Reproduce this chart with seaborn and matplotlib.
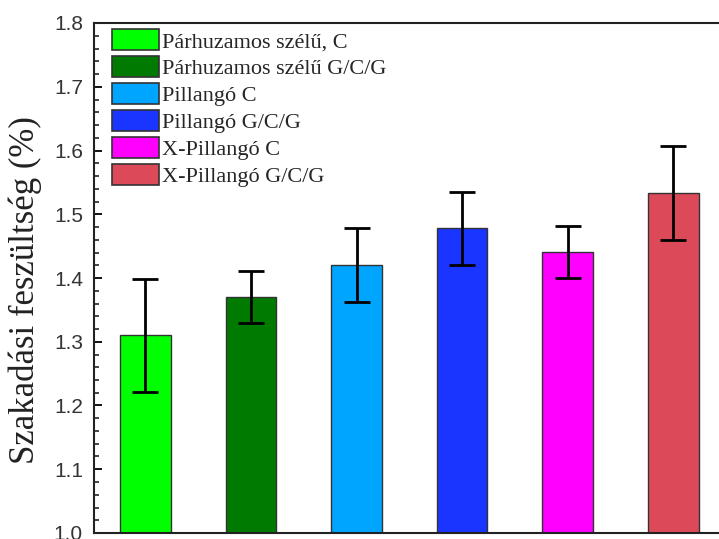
import numpy as np
import pandas as pd
import matplotlib
matplotlib.use("Agg")
import matplotlib.pyplot as plt
from matplotlib.patches import Patch
from matplotlib.ticker import MultipleLocator
import seaborn as sns

# data
labels = ["Párhuzamos szélű, C", "Párhuzamos szélű G/C/G", "Pillangó C",
          "Pillangó G/C/G", "X-Pillangó C", "X-Pillangó G/C/G"]
values = [1.310, 1.370, 1.421, 1.478, 1.441, 1.533]
errors = [0.089, 0.041, 0.058, 0.057, 0.041, 0.074]
colors = ["#00FF00", "#007A00", "#00A5FF", "#1A35FF", "#FF00FF", "#DC4A5A"]

df = pd.DataFrame({"minta": labels, "ertek": values, "hiba": errors})

sns.set_style("ticks")
plt.rcParams["font.family"] = ["Liberation Sans", "DejaVu Sans"]

fig = plt.figure(figsize=(7.19, 5.39), dpi=100)
ax = fig.add_axes([94/719, 6/539, 1.02 - 94/719, (533-23)/539])

sns.barplot(data=df, x="minta", y="ertek", hue="minta", palette=colors,
            saturation=1, width=0.483, edgecolor="#333333", linewidth=1.0,
            legend=False, errorbar=None, ax=ax)
ax.errorbar(np.arange(len(values)), df["ertek"], yerr=df["hiba"], fmt="none",
            ecolor="black", elinewidth=2.0, capsize=9.5, capthick=2.0)

ax.set_ylim(1.0, 1.8)
ax.set_xlim(-0.488, 5.572)
ax.yaxis.set_major_locator(MultipleLocator(0.1))
ax.yaxis.set_minor_locator(MultipleLocator(0.02))
ax.tick_params(axis="y", which="major", direction="in", length=6, width=1.3,
               labelsize=15, pad=8, colors="black")
ax.tick_params(axis="y", which="minor", direction="in", length=3.5, width=1.2)
ax.tick_params(axis="x", bottom=False, labelbottom=False)
for lab in ax.get_yticklabels():
    lab.set_color("#333333")
ax.set_xlabel("")
ax.set_ylabel("Szakadási feszültség (%)", family=["Liberation Serif", "DejaVu Serif"],
              fontsize=25, color="#222222")
ax.yaxis.set_label_coords(-0.082, 0.476)
for s in ["left", "top", "bottom"]:
    ax.spines[s].set_linewidth(1.5)
    ax.spines[s].set_color("#222222")
ax.spines["right"].set_visible(False)

handles = [Patch(facecolor=c, edgecolor="#333333", linewidth=1.2) for c in colors]
ax.legend(handles, labels, loc="upper left", bbox_to_anchor=(112/719, 1 - 29/539),
          bbox_transform=fig.transFigure, frameon=False, borderpad=0, borderaxespad=0,
          handlelength=2.1, handleheight=1.1, labelspacing=0.17, handletextpad=0.13,
          prop={"family": ["Liberation Serif", "DejaVu Serif"], "size": 16})

fig.savefig("out.png", dpi=100)
